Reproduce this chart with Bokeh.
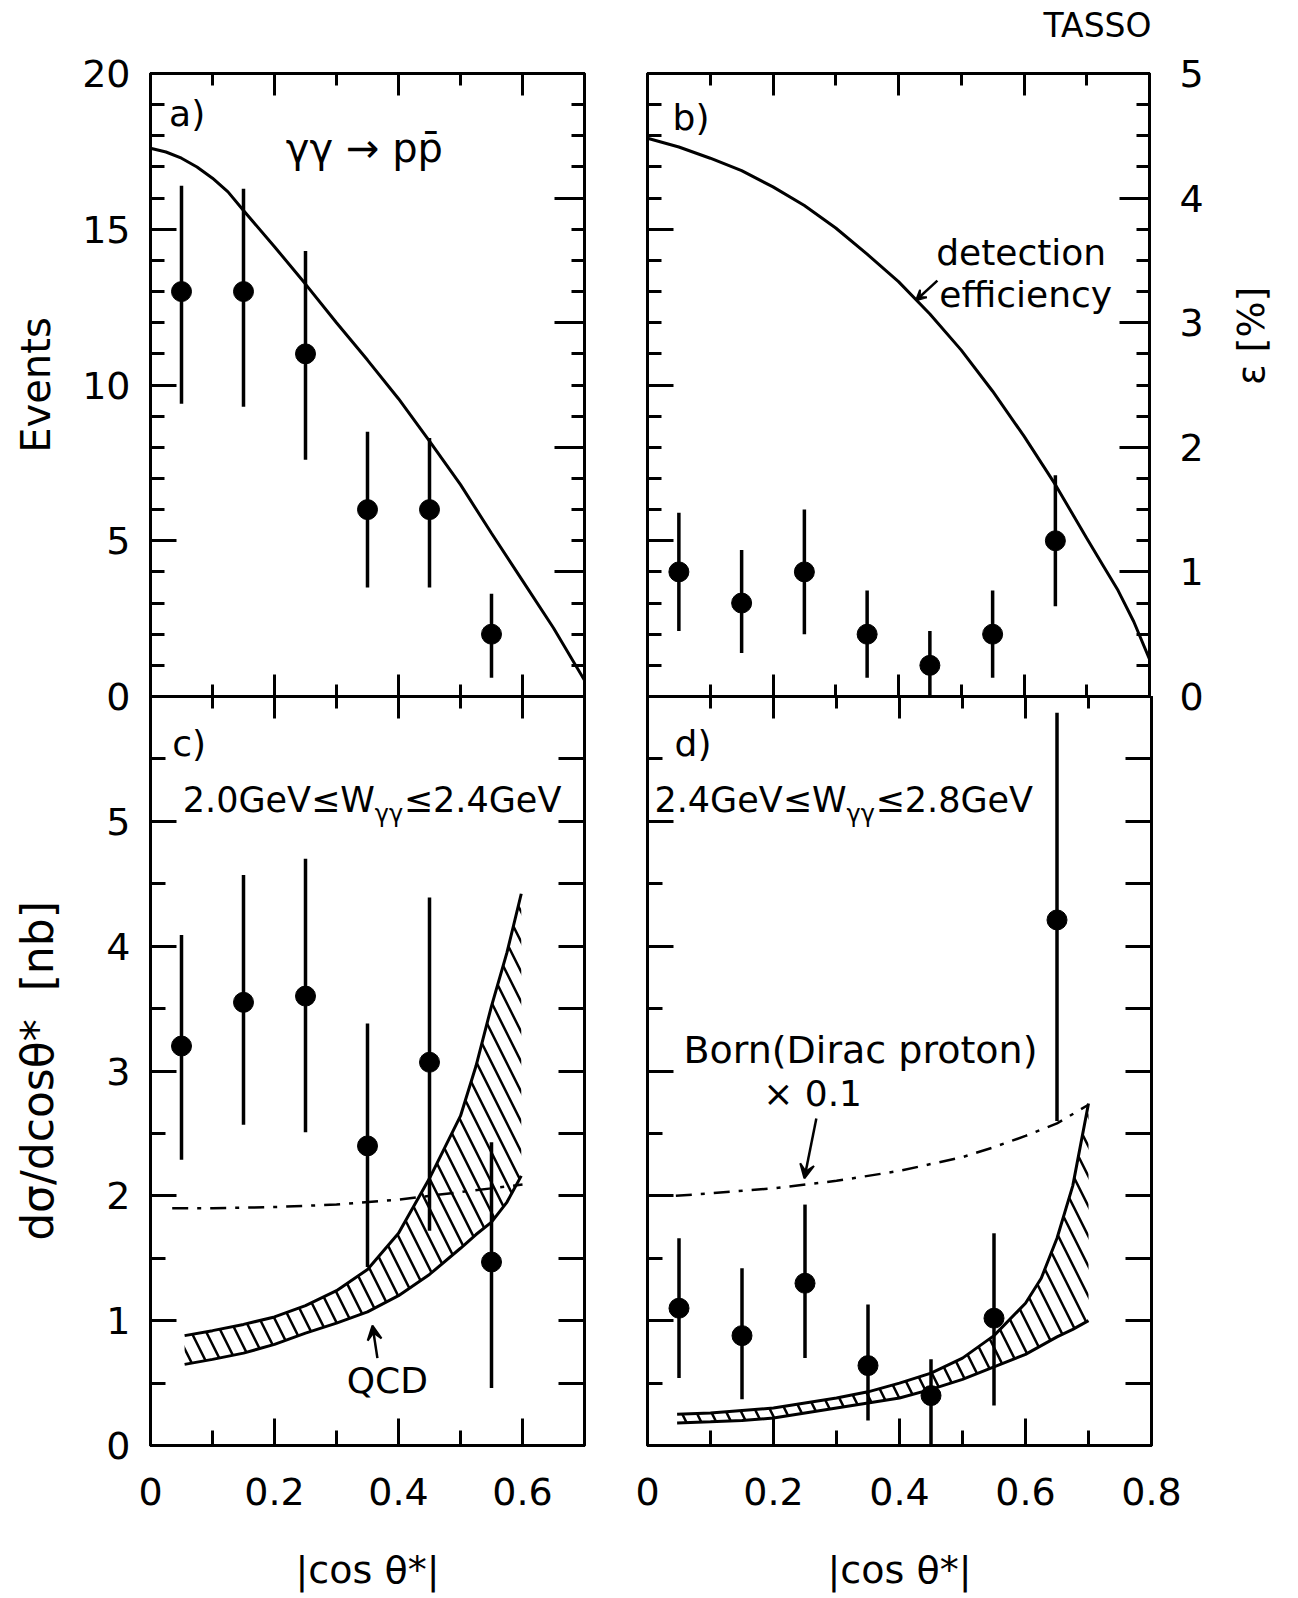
from math import pi

from bokeh.embed import file_html
from bokeh.layouts import column, row
from bokeh.models import Arrow, FixedTicker, Label, LinearAxis, Range1d, VeeHead
from bokeh.plotting import figure
from bokeh.resources import INLINE

FONT = "DejaVu Sans"

# bin centres in |cos theta*|
bins_a = [0.05, 0.15, 0.25, 0.35, 0.45, 0.55]
bins_b = [0.05, 0.15, 0.25, 0.35, 0.45, 0.55, 0.65]

# a) events, 2.0 GeV < W < 2.4 GeV
events_a = [13, 13, 11, 6, 6, 2]
events_a_hi = [16.4, 16.3, 14.3, 8.5, 8.3, 3.3]
events_a_lo = [9.4, 9.3, 7.6, 3.5, 3.5, 0.6]

# b) events, 2.4 GeV < W < 2.8 GeV
events_b = [4, 3, 4, 2, 1, 2, 5]
events_b_hi = [5.9, 4.7, 6.0, 3.4, 2.1, 3.4, 7.1]
events_b_lo = [2.1, 1.4, 2.0, 0.6, 0.0, 0.6, 2.9]

# detection efficiency [%]
eff_a_x = [0.0, 0.025, 0.05, 0.075, 0.1, 0.125, 0.15, 0.2, 0.25, 0.3, 0.35,
           0.4, 0.45, 0.5, 0.55, 0.6, 0.65, 0.7]
eff_a = [4.4, 4.37, 4.32, 4.25, 4.16, 4.05, 3.9, 3.61, 3.31, 3.0, 2.7, 2.39,
         2.05, 1.7, 1.31, 0.93, 0.55, 0.13]
eff_b_x = [0.0, 0.05, 0.1, 0.15, 0.2, 0.25, 0.3, 0.35, 0.4, 0.45, 0.5, 0.55,
           0.6, 0.65, 0.7, 0.725, 0.75, 0.775, 0.8]
eff_b = [4.48, 4.41, 4.32, 4.22, 4.09, 3.94, 3.76, 3.55, 3.33, 3.07, 2.78,
         2.45, 2.09, 1.70, 1.27, 1.06, 0.85, 0.6, 0.3]

# c) d(sigma)/dcos [nb], 2.0 - 2.4 GeV
xsec_c = [3.2, 3.55, 3.6, 2.4, 3.07, 1.47]
xsec_c_hi = [4.09, 4.57, 4.7, 3.38, 4.39, 2.43]
xsec_c_lo = [2.29, 2.57, 2.51, 1.43, 1.72, 0.46]

qcd_c_x = [0.055, 0.1, 0.15, 0.2, 0.25, 0.3, 0.35, 0.4, 0.45, 0.5, 0.525,
           0.55, 0.575, 0.598]
qcd_c_hi = [0.88, 0.92, 0.97, 1.03, 1.12, 1.24, 1.41, 1.70, 2.14, 2.64, 3.04,
            3.52, 3.95, 4.42]
qcd_c_lo = [0.65, 0.69, 0.74, 0.81, 0.90, 0.98, 1.07, 1.20, 1.37, 1.58, 1.69,
            1.79, 1.95, 2.16]

born_c_x = [0.035, 0.1, 0.2, 0.3, 0.4, 0.5, 0.6]
born_c = [1.9, 1.9, 1.91, 1.93, 1.97, 2.03, 2.09]

# d) d(sigma)/dcos [nb], 2.4 - 2.8 GeV
xsec_d = [1.1, 0.88, 1.3, 0.64, 0.4, 1.02, 4.21]
xsec_d_hi = [1.66, 1.42, 1.93, 1.13, 0.69, 1.70, 5.87]
xsec_d_lo = [0.54, 0.37, 0.70, 0.2, 0.0, 0.32, 2.6]

qcd_d_x = [0.047, 0.1, 0.15, 0.2, 0.25, 0.3, 0.35, 0.4, 0.45, 0.5, 0.55, 0.6,
           0.625, 0.65, 0.675, 0.7]
qcd_d_hi = [0.25, 0.26, 0.28, 0.30, 0.34, 0.38, 0.43, 0.5, 0.58, 0.70, 0.88,
            1.14, 1.34, 1.66, 2.08, 2.74]
qcd_d_lo = [0.18, 0.19, 0.20, 0.22, 0.26, 0.30, 0.34, 0.38, 0.45, 0.53, 0.63,
            0.73, 0.80, 0.87, 0.93, 1.0]

born_d_x = [0.045, 0.1, 0.2, 0.3, 0.4, 0.5, 0.55, 0.6, 0.65, 0.7]
born_d = [2.0, 2.02, 2.06, 2.12, 2.2, 2.31, 2.39, 2.48, 2.58, 2.73]

# axis ticks
x7_major, x7_minor = [0, 0.2, 0.4, 0.6], [0.1, 0.3, 0.5]
x8_major, x8_minor = [0, 0.2, 0.4, 0.6, 0.8], [0.1, 0.3, 0.5, 0.7]
ev_major, ev_minor = [0, 5, 10, 15, 20], list(range(21))
eff_major = [0, 1, 2, 3, 4, 5]
eff_minor = [0.25 * i for i in range(21)]
xs_major, xs_minor = [0, 1, 2, 3, 4, 5, 6], [0.5 * i for i in range(13)]
x_names = {0: "0"}


def panel(x_end, y_end, width, height, left, right, top, bottom):
    p = figure(width=width, height=height,
               x_range=Range1d(0, x_end), y_range=Range1d(0, y_end),
               min_border_left=left, min_border_right=right,
               min_border_top=top, min_border_bottom=bottom,
               x_axis_location=None, y_axis_location=None,
               output_backend="svg", toolbar_location=None)
    p.grid.visible = False
    p.outline_line_color = "black"
    p.outline_line_width = 3
    # transparent, so the rows can overlap at the shared frame edge
    p.background_fill_color = None
    p.border_fill_color = None
    return p


def add_axis(p, side, major, minor, tick_len, show=False, standoff=20,
             overrides=None, range_name="default"):
    ax = LinearAxis(ticker=FixedTicker(ticks=major, minor_ticks=minor),
                    y_range_name=range_name)
    ax.axis_line_width = 3
    ax.axis_line_color = "black"
    ax.major_tick_in, ax.major_tick_out = tick_len[0], 0
    ax.minor_tick_in, ax.minor_tick_out = tick_len[1], 0
    ax.major_tick_line_width = 3
    ax.minor_tick_line_width = 3
    ax.major_label_text_font = FONT
    if show:
        ax.major_label_text_font_size = "38px"
        ax.major_label_text_color = "black"
        ax.major_label_standoff = standoff
    else:
        ax.major_label_text_font_size = "0px"
        ax.major_label_text_color = None
        ax.major_label_standoff = 0
    if overrides:
        ax.major_label_overrides = overrides
    ax.axis_label_text_font = FONT
    ax.axis_label_text_font_size = "38px"
    ax.axis_label_text_font_style = "normal"
    ax.axis_label_text_color = "black"
    p.add_layout(ax, side)
    return ax


def note(p, text, x, y, size="35px", align="left", rng="default"):
    p.add_layout(Label(x=x, y=y, text=text, text_font=FONT,
                       text_font_size=size, text_align=align,
                       text_baseline="middle", text_color="black",
                       y_range_name=rng))


def data_points(p, x, y, lo, hi):
    p.segment(x0=x, y0=lo, x1=x, y1=hi, line_width=3.5, line_color="black")
    p.scatter(x, y, marker="circle", size=20, color="black")


def qcd_band(p, x, lo, hi):
    p.varea(x=x, y1=lo, y2=hi, fill_color="white", fill_alpha=0,
            hatch_pattern="\\", hatch_color="black", hatch_scale=30,
            hatch_weight=2.5)
    p.line(x, hi, line_width=3, line_color="black")
    p.line(x, lo, line_width=3, line_color="black")


# ---- header strip with the experiment name ----
head = figure(width=1297, height=46, x_range=Range1d(0, 1),
              y_range=Range1d(0, 1), min_border=0,
              x_axis_location=None, y_axis_location=None,
              output_backend="svg", toolbar_location=None)
head.grid.visible = False
head.outline_line_color = None
head.background_fill_color = None
head.border_fill_color = None
note(head, "TASSO", 1151 / 1297, 0.45, size="33px", align="right")

# ---- a) ----
fa = panel(0.7, 20, 615, 680, 150, 31, 27, 30)
fa.extra_y_ranges = {"eff": Range1d(0, 5)}
ax = add_axis(fa, "left", ev_major, ev_minor, (26, 14), show=True)
ax.axis_label = "Events"
ax.axis_label_text_font_size = "40px"
ax.axis_label_standoff = 20
add_axis(fa, "right", eff_major, eff_minor, (30, 13), range_name="eff")
add_axis(fa, "above", x7_major, x7_minor, (22, 12))
add_axis(fa, "below", x7_major, x7_minor, (22, 12))
data_points(fa, bins_a, events_a, events_a_lo, events_a_hi)
fa.line(eff_a_x, eff_a, y_range_name="eff", line_width=3, line_color="black")
note(fa, "a)", 0.03, 18.7, size="36px")
note(fa, "γγ → pp̄", 0.345, 17.6, size="40px", align="center")

# ---- b) ----
fb = panel(0.8, 20, 682, 680, 32, 146, 27, 30)
fb.extra_y_ranges = {"eff": Range1d(0, 5)}
add_axis(fb, "left", ev_major, ev_minor, (26, 14))
ax = add_axis(fb, "right", eff_major, eff_minor, (30, 13), show=True,
              standoff=30, range_name="eff")
ax.axis_label = "ε [%]"
ax.axis_label_standoff = 44
if "axis_label_orientation" in ax.properties():
    ax.axis_label_orientation = pi / 2
add_axis(fb, "above", x8_major, x8_minor, (22, 12))
add_axis(fb, "below", x8_major, x8_minor, (22, 12))
data_points(fb, bins_b, events_b, events_b_lo, events_b_hi)
fb.line(eff_b_x, eff_b, y_range_name="eff", line_width=3, line_color="black")
note(fb, "b)", 0.04, 18.6, size="36px")
note(fb, "detection", 0.46, 14.25, size="36px")
note(fb, "efficiency", 0.465, 12.9, size="36px")
fb.add_layout(Arrow(end=VeeHead(size=10, fill_color="black", line_width=2),
                    x_start=0.462, y_start=13.35, x_end=0.428, y_end=12.72,
                    line_width=2.5))

# ---- c) ----
fc = panel(0.7, 6, 615, 898, 150, 31, 0, 146)
ax = add_axis(fc, "left", xs_major, xs_minor, (26, 15), show=True,
              overrides={6: ""})
ax.axis_label = "dσ/dcosθ*\u00a0\u00a0[nb]"
ax.axis_label_text_font_size = "44px"
ax.axis_label_standoff = 40
add_axis(fc, "right", xs_minor, [], (26, 0))
add_axis(fc, "above", x7_major, x7_minor, (22, 12))
ax = add_axis(fc, "below", x7_major, x7_minor, (27, 15), show=True,
              standoff=32, overrides=x_names)
ax.axis_label = "|cos θ*|"
ax.axis_label_standoff = 40
qcd_band(fc, qcd_c_x, qcd_c_lo, qcd_c_hi)
fc.line(born_c_x, born_c, line_width=2.5, line_color="black",
        line_dash="16 9 4 9")
data_points(fc, bins_a, xsec_c, xsec_c_lo, xsec_c_hi)
note(fc, "c)", 0.035, 5.62, size="36px")
note(fc, "2.0GeV≤W", 0.052, 5.17)
note(fc, "γγ", 0.052 + 192 / 620, 5.06, size="24px")
note(fc, "≤2.4GeV", 0.052 + 221 / 620, 5.17)
note(fc, "QCD", 0.382, 0.52, size="36px", align="center")
fc.add_layout(Arrow(end=VeeHead(size=14, fill_color="black", line_width=2),
                    x_start=0.366, y_start=0.70, x_end=0.358, y_end=0.96,
                    line_width=2.5))

# ---- d) ----
fd = panel(0.8, 6, 682, 898, 32, 146, 0, 146)
add_axis(fd, "left", xs_major, xs_minor, (26, 15))
add_axis(fd, "right", xs_minor, [], (26, 0))
add_axis(fd, "above", x8_major, x8_minor, (22, 12))
ax = add_axis(fd, "below", x8_major, x8_minor, (27, 15), show=True,
              standoff=32, overrides=x_names)
ax.axis_label = "|cos θ*|"
ax.axis_label_standoff = 40
qcd_band(fd, qcd_d_x, qcd_d_lo, qcd_d_hi)
fd.line(born_d_x, born_d, line_width=2.5, line_color="black",
        line_dash="16 9 4 9")
data_points(fd, bins_b, xsec_d, xsec_d_lo, xsec_d_hi)
note(fd, "d)", 0.043, 5.62, size="36px")
note(fd, "2.4GeV≤W", 0.011, 5.17)
note(fd, "γγ", 0.011 + 192 / 630, 5.06, size="24px")
note(fd, "≤2.8GeV", 0.011 + 221 / 630, 5.17)
note(fd, "Born(Dirac proton)", 0.338, 3.17, size="38px", align="center")
note(fd, "× 0.1", 0.262, 2.82, size="36px", align="center")
fd.add_layout(Arrow(end=VeeHead(size=14, fill_color="black", line_width=2),
                    x_start=0.268, y_start=2.62, x_end=0.249, y_end=2.14,
                    line_width=2.5))

# the bottom row is pulled up over the 30 px label strip of the top row
p = column(head, row(fa, fb), row(fc, fd, margin=(-30, 0, 0, 0)))
open("out.html", "w").write(file_html(p, INLINE))
